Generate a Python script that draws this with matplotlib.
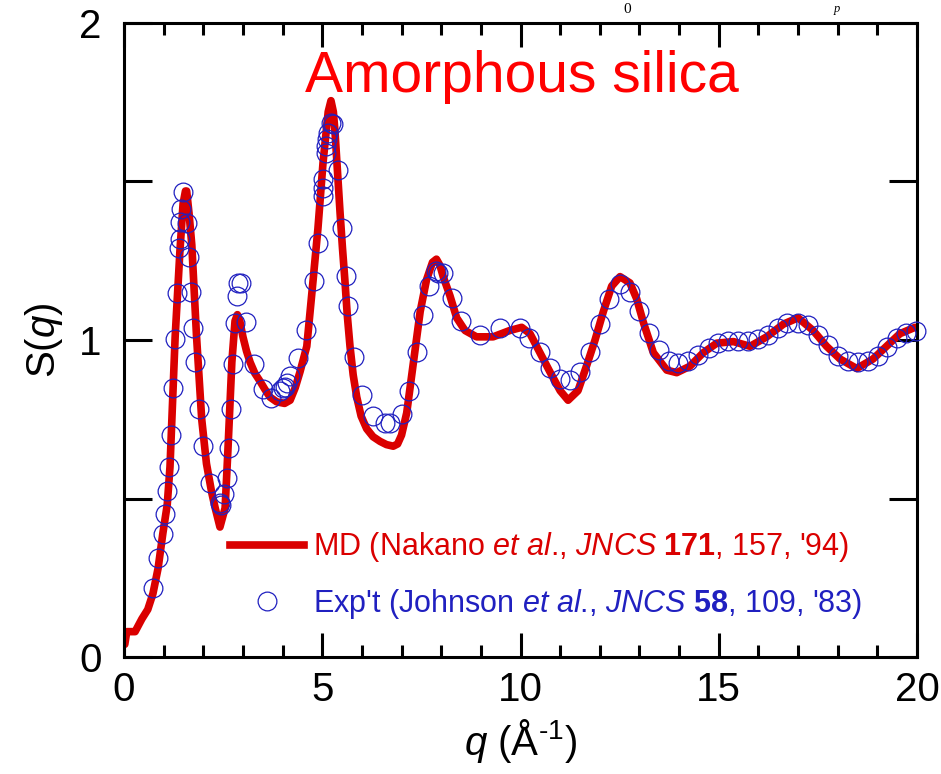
import matplotlib
matplotlib.use("Agg")
import matplotlib.pyplot as plt
from matplotlib.lines import Line2D
from matplotlib.ticker import MultipleLocator

# MD curve, S(q)
md_q = [0.02, 0.07, 0.28, 0.45, 0.60, 0.73, 0.86, 0.98, 1.09, 1.16, 1.29, 1.41, 1.49,
        1.55, 1.58, 1.64, 1.71, 1.83, 1.96, 2.08, 2.21, 2.30, 2.42, 2.55, 2.62, 2.72,
        2.80, 2.86, 2.92, 3.00, 3.09, 3.18, 3.30, 3.43, 3.55, 3.68, 3.85, 4.05, 4.19,
        4.32, 4.44, 4.61, 4.77, 4.89, 5.02, 5.15, 5.22, 5.28, 5.32, 5.38, 5.45, 5.51,
        5.57, 5.63, 5.70, 5.78, 5.87, 5.98, 6.12, 6.28, 6.46, 6.62, 6.79, 6.90, 7.00,
        7.13, 7.30, 7.47, 7.63, 7.78, 7.88, 7.97, 8.05, 8.22, 8.39, 8.60, 8.89, 9.31,
        9.73, 10.03, 10.24, 10.49, 10.74, 11.00, 11.20, 11.45, 11.67, 11.88, 12.09,
        12.30, 12.51, 12.76, 12.93, 13.10, 13.35, 13.69, 13.94, 14.27, 14.61, 14.95,
        15.37, 15.79, 16.21, 16.63, 17.00, 17.38, 17.72, 18.06, 18.48, 18.89, 19.23,
        19.57, 19.95]
md_s = [0.04, 0.08, 0.08, 0.12, 0.15, 0.20, 0.28, 0.39, 0.48, 0.60, 1.01, 1.28, 1.43,
        1.47, 1.47, 1.40, 1.30, 1.01, 0.75, 0.61, 0.52, 0.47, 0.41, 0.47, 0.65, 0.93,
        1.06, 1.08, 1.06, 1.01, 0.965, 0.93, 0.895, 0.87, 0.845, 0.82, 0.805, 0.80, 0.81,
        0.85, 0.90, 0.98, 1.19, 1.35, 1.56, 1.72, 1.755, 1.72, 1.66, 1.54, 1.40, 1.29,
        1.19, 1.08, 0.98, 0.89, 0.82, 0.76, 0.72, 0.695, 0.68, 0.67, 0.665, 0.672, 0.70,
        0.77, 0.93, 1.09, 1.19, 1.245, 1.255, 1.235, 1.20, 1.14, 1.07, 1.03, 1.01, 1.01,
        1.03, 1.04, 1.02, 0.96, 0.90, 0.84, 0.81, 0.84, 0.92, 1.00, 1.09,
        1.17, 1.20, 1.18, 1.13, 1.055, 0.96, 0.905, 0.897, 0.917, 0.96, 0.99,
        0.995, 0.98, 1.01, 1.05, 1.07, 1.03, 0.98, 0.94, 0.91, 0.94, 0.98,
        1.02, 1.04]

# experiment (Johnson et al.)
exp_q = [0.74, 0.87, 0.99, 1.03, 1.09, 1.13, 1.19, 1.23, 1.29, 1.33, 1.38, 1.40, 1.41,
         1.43, 1.50, 1.60, 1.64, 1.69, 1.73, 1.79, 1.89, 1.98, 2.18, 2.42, 2.45, 2.52,
         2.59, 2.64, 2.69, 2.74, 2.79, 2.84, 2.87, 2.94, 3.08, 3.29, 3.50, 3.72, 3.93,
         4.02, 4.06, 4.10, 4.19, 4.40, 4.59, 4.79, 4.90, 5.01, 5.01, 5.01, 5.09, 5.10,
         5.13, 5.15, 5.21, 5.26, 5.40, 5.49, 5.60, 5.66, 5.80, 5.99, 6.29, 6.58, 6.71,
         7.00, 7.20, 7.38, 7.55, 7.70, 7.87, 7.93, 8.04, 8.26, 8.50, 8.98, 9.48, 9.99,
         10.22, 10.49, 10.74, 11.00, 11.25, 11.50, 11.75, 12.00, 12.24, 12.50, 12.75,
         13.00, 13.25, 13.49, 13.74, 13.98, 14.23, 14.47, 14.76, 14.99, 15.24, 15.49,
         15.75, 16.00, 16.25, 16.50, 16.73, 17.01, 17.26, 17.51, 17.76, 18.02, 18.27,
         18.52, 18.77, 19.02, 19.25, 19.50, 19.72, 19.98]
exp_s = [0.217, 0.312, 0.389, 0.452, 0.525, 0.599, 0.700, 0.849, 1.003, 1.149, 1.291,
         1.319, 1.373, 1.414, 1.467, 1.370, 1.263, 1.150, 1.038, 0.930, 0.782, 0.667,
         0.548, 0.486, 0.480, 0.515, 0.565, 0.658, 0.782, 0.924, 1.054, 1.140, 1.180,
         1.180, 1.057, 0.923, 0.847, 0.817, 0.838, 0.848, 0.853, 0.864, 0.886, 0.944,
         1.031, 1.186, 1.307, 1.455, 1.480, 1.507, 1.591, 1.612, 1.633, 1.654, 1.686,
         1.680, 1.536, 1.354, 1.202, 1.107, 0.946, 0.825, 0.759, 0.738, 0.738, 0.768,
         0.838, 0.961, 1.080, 1.170, 1.217, 1.211, 1.210, 1.133, 1.060, 1.017, 1.038,
         1.038, 1.006, 0.961, 0.911, 0.877, 0.875, 0.898, 0.961, 1.050, 1.130, 1.178,
         1.152, 1.090, 1.022, 0.970, 0.933, 0.927, 0.933, 0.952, 0.975, 0.990, 0.996,
         0.996, 0.996, 1.002, 1.017, 1.038, 1.054, 1.054, 1.046, 1.017, 0.983, 0.951,
         0.933, 0.930, 0.933, 0.951, 0.978, 1.006, 1.022, 1.028]

x_ticks = [0, 5, 10, 15, 20]
y_ticks = [0, 1, 2]

title = "Amorphous silica"
md_label = r"MD (Nakano $\mathit{et\ al}$., $\mathit{JNCS}$ $\mathbf{171}$, 157, '94)"
exp_label = r"Exp't (Johnson $\mathit{et\ al}$., $\mathit{JNCS}$ $\mathbf{58}$, 109, '83)"

RED = "#da0000"
BLUE = "#2020c0"

plt.rcParams["font.family"] = ["Liberation Sans", "DejaVu Sans"]
plt.rcParams["mathtext.fontset"] = "custom"
plt.rcParams["mathtext.rm"] = "Liberation Sans"
plt.rcParams["mathtext.it"] = "Liberation Sans:italic"
plt.rcParams["mathtext.bf"] = "Liberation Sans:bold"


def main() -> None:
    fig = plt.figure(figsize=(9.41, 7.74), dpi=100)
    ax = fig.add_axes([124 / 941, 1 - 657 / 774, 793 / 941, 634 / 774])

    ax.plot(md_q, md_s, color=RED, linewidth=5.5, solid_joinstyle="round",
            solid_capstyle="round", zorder=2)
    ax.plot(exp_q, exp_s, linestyle="none", marker="o", markersize=13.5,
            markerfacecolor="none", markeredgecolor=BLUE, markeredgewidth=0.9,
            clip_on=False, zorder=3)

    ax.set_xlim(0, 20)
    ax.set_ylim(0, 2)
    ax.xaxis.set_major_locator(MultipleLocator(5))
    ax.xaxis.set_minor_locator(MultipleLocator(1))
    ax.yaxis.set_major_locator(MultipleLocator(1))
    ax.yaxis.set_minor_locator(MultipleLocator(0.5))
    ax.set_xticks(x_ticks)
    ax.set_yticks(y_ticks)
    ax.tick_params(axis="both", which="both", direction="in", width=2.2,
                   top=True, right=True, labelsize=29)
    ax.tick_params(axis="x", which="major", length=17, pad=10)
    ax.tick_params(axis="x", which="minor", length=8.5)
    ax.tick_params(axis="y", which="both", length=20, pad=16)
    for spine in ax.spines.values():
        spine.set_linewidth(2.2)

    ax.set_xlabel(r"$\mathit{q}$ (Å$^{\text{-1}}$)", fontsize=29, labelpad=6)
    ax.set_ylabel(r"S($\mathit{q}$)", fontsize=29, labelpad=10)

    ax.text(0.502, 0.891, title, transform=ax.transAxes, color="#ff0000",
            fontsize=41, ha="center", va="baseline")

    handles = [
        Line2D([], [], color=RED, linewidth=5.5),
        Line2D([], [], linestyle="none", marker="o", markersize=13.5,
               markerfacecolor="none", markeredgecolor=BLUE, markeredgewidth=0.9),
    ]
    ax.legend(handles, [md_label, exp_label], loc="upper left",
              bbox_to_anchor=(0.134, 0.20), frameon=False, fontsize=22,
              handlelength=2.4, handletextpad=0.3, labelspacing=0.75,
              borderpad=0, borderaxespad=0, labelcolor=[RED, BLUE])

    # remains of an equation cut off above the slide, kept small so they fit
    fig.text(627 / 941, 1 - 13 / 774, "0", family="Liberation Serif",
             fontsize=11, ha="center", va="baseline")
    fig.text(837 / 941, 1 - 12 / 774, "p", family="Liberation Serif",
             style="italic", fontsize=9, ha="center", va="baseline")

    fig.savefig("out.png", dpi=100)
    plt.close(fig)


if __name__ == "__main__":
    main()
